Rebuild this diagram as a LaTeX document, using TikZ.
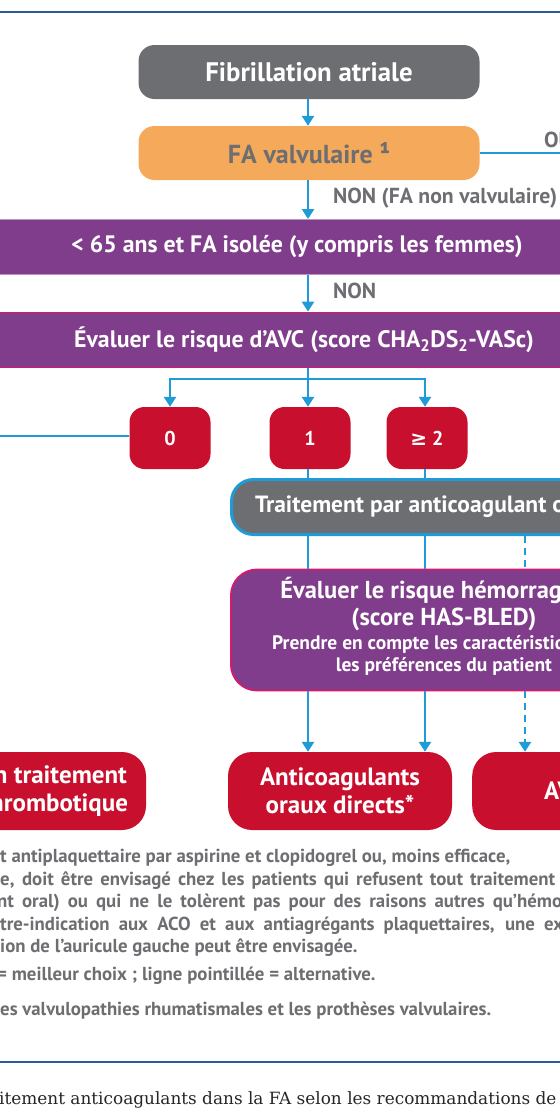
\documentclass[tikz,border=0pt]{standalone}
\usepackage{fontspec}
\setmainfont{PT Sans}
\newfontfamily\symfont{DejaVu Sans}
\newfontfamily\capfont{DejaVu Serif}
\usetikzlibrary{arrows.meta}

\definecolor{fagray}{HTML}{6D6E71}
\definecolor{faorange}{HTML}{F4A95B}
\definecolor{fapurple}{HTML}{803D8C}
\definecolor{famagenta}{HTML}{D31A6E}
\definecolor{fared}{HTML}{C8102E}
\definecolor{fablue}{HTML}{1F9BD7}
\definecolor{farule}{HTML}{2B5A96}

\newcommand\smallbold{\fontsize{19.5}{21}\selectfont}

\begin{document}
\begin{tikzpicture}[x=1pt,y=-1pt,
  >={Triangle[width=12pt,length=10pt]},
  flow/.style={draw=fablue,line width=2.6pt},
  alt/.style={flow,dash pattern=on 7pt off 5pt},
  box/.style={rounded corners=16pt,minimum height=54pt,inner sep=0pt,
    text=white,align=center,font=\bfseries\fontsize{26}{28}\selectfont},
  bar/.style={box,rounded corners=0pt,fill=fapurple,minimum width=760pt,minimum height=55pt,
    font=\bfseries\fontsize{23.8}{28}\selectfont},
  score/.style={box,fill=fared,minimum width=81pt,minimum height=62pt,rounded corners=15pt,
    font=\bfseries\fontsize{20}{24}\selectfont},
  drug/.style={box,fill=fared,minimum width=224pt,minimum height=78pt,rounded corners=24pt,
    font=\bfseries\fontsize{25}{28}\selectfont},
  lbl/.style={text=fagray,inner sep=0pt,font=\bfseries\fontsize{21.7}{24}\selectfont},
  note/.style={anchor=west,text=fagray,inner sep=0pt,font=\bfseries\fontsize{18.8}{22}\selectfont},
  rule/.style={draw=farule,line width=2pt}]

  \useasboundingbox (0,0) rectangle (560,1120);
  \clip (0,0) rectangle (560,1120);

  \draw[rule] (-5,12) -- (565,12);

  % top of the chart
  \node[box,fill=fagray,minimum width=341pt,font=\bfseries\fontsize{26.8}{28}\selectfont]
    (fib) at (309,72) {Fibrillation atriale};
  \node[box,fill=faorange,text=fagray,minimum width=341pt] (valv) at (309,153) {FA valvulaire ¹};
  \node[bar,draw=fapurple!55!white,line width=1pt] (age) at (297,247)
    {< 65 ans et FA isolée (y compris les femmes)};
  \node[bar,draw=famagenta,line width=1.8pt] (avc) at (304,340)
    {Évaluer le risque d’AVC (score CHA\textsubscript{2}DS\textsubscript{2}-VASc)};

  \node[lbl,anchor=west] (oui) at (544,140) {OUI};
  \node[lbl,anchor=west] (non1) at (333,198) {NON (FA non valvulaire)};
  \node[lbl,anchor=west] (non2) at (333,291) {NON};

  \coordinate (east1) at (570,153);
  \coordinate (fork) at (308,379);
  \coordinate (west1) at (-10,436);
  \coordinate (dash1) at (525,0);

  \draw[flow,->] (fib.south -| fork) -- (valv.north -| fork);
  \draw[flow] (valv) -- (east1);
  \draw[flow,->] (valv.south -| fork) -- (age.north -| fork);
  \draw[flow,->] (age.south -| fork) -- (avc.north -| fork);

  % scores
  \node[score] (s0) at (170,438) {0};
  \node[score] (s1) at (310,438) {1};
  \node[score] (s2) at (427,438) {{\symfont ≥} 2};

  \draw[flow] (avc.south -| fork) -- (fork);
  \draw[flow,->] (fork) -| (s0.north);
  \draw[flow,->] (fork) -- (s1.north -| fork);
  \draw[flow,->] (fork) -| ([xshift=-2pt]s2.north);
  \draw[flow] (s0.west |- west1) -- (west1);

  % anticoagulation
  \node[box,fill=fagray,draw=fablue,line width=3pt,rounded corners=22pt,
    font=\bfseries\fontsize{23.5}{28}\selectfont,
    anchor=west,minimum width=384pt,minimum height=55pt] (oac) at (230,507)
    {Traitement par anticoagulant oral};
  \node[box,fill=fapurple,draw=famagenta,line width=1.8pt,rounded corners=26pt,
    font=\bfseries\fontsize{24.5}{27}\selectfont,text depth=12pt,
    anchor=west,minimum width=426pt,minimum height=121pt] (bleed) at (230,630)
    {Évaluer le risque hémorragique\\[0pt](score HAS-BLED)\\[-3pt]
     {\smallbold Prendre en compte les caractéristiques et}\\[-5pt]
     {\smallbold les préférences du patient}};

  \draw[flow] (s1.south -| fork) -- (oac.north -| fork);
  \draw[flow] ([xshift=-2pt]s2.south) -- ([xshift=-2pt]s2.south |- oac.north);
  \draw[flow] (oac.south -| fork) -- (bleed.north -| fork);
  \draw[flow] ([xshift=-2pt]s2.south |- oac.south) -- ([xshift=-2pt]s2.south |- bleed.north);
  \draw[alt] (oac.south -| dash1) -- (bleed.north -| dash1);

  % treatments
  \node[drug] (none) at (34,791) {Aucun traitement\\antithrombotique};
  \node[drug] (doac) at (340,791) {Anticoagulants\\oraux directs*};
  \node[drug,anchor=west,minimum width=188pt] (avk) at (472,791) {AVK};

  \draw[flow,->] (bleed.south -| fork) -- (doac.north -| fork);
  \draw[flow,->] ([xshift=-2pt]s2.south |- bleed.south) -- ([xshift=-2pt]s2.south |- doac.north);
  \draw[alt,->] (bleed.south -| dash1) -- (avk.north -| dash1);

  % notes
  \node[note] (n1) at (0,858) {t antiplaquettaire par aspirine et clopidogrel ou, moins efficace,};
  \node[note] (n2) at (0,881) {\makebox[555pt][s]{e, doit être envisagé chez les patients qui refusent tout traitement}};
  \node[note] (n3) at (-3,903) {\makebox[565pt][s]{nt oral) ou qui ne le tolèrent pas pour des raisons autres qu’hémo}rragiques};
  \node[note] (n4) at (0,926) {\makebox[563pt][s]{tre-indication aux ACO et aux antiagrégants plaquettaires, une ex}clusion};
  \node[note] (n5) at (0,948) {ion de l’auricule gauche peut être envisagée.};
  \node[note] (n6) at (-3,976) {= meilleur choix ; ligne pointillée = alternative.};
  \node[note] (n7) at (0,1011) {es valvulopathies rhumatismales et les prothèses valvulaires.};

  \draw[rule] (-5,1062) -- (565,1062);
  \node[anchor=west,inner sep=0pt,font=\capfont\fontsize{16.9}{20}\selectfont,text=black!85] (cap)
    at (-1,1100) {itement anticoagulants dans la FA selon les recommandations de la};
\end{tikzpicture}
\end{document}
